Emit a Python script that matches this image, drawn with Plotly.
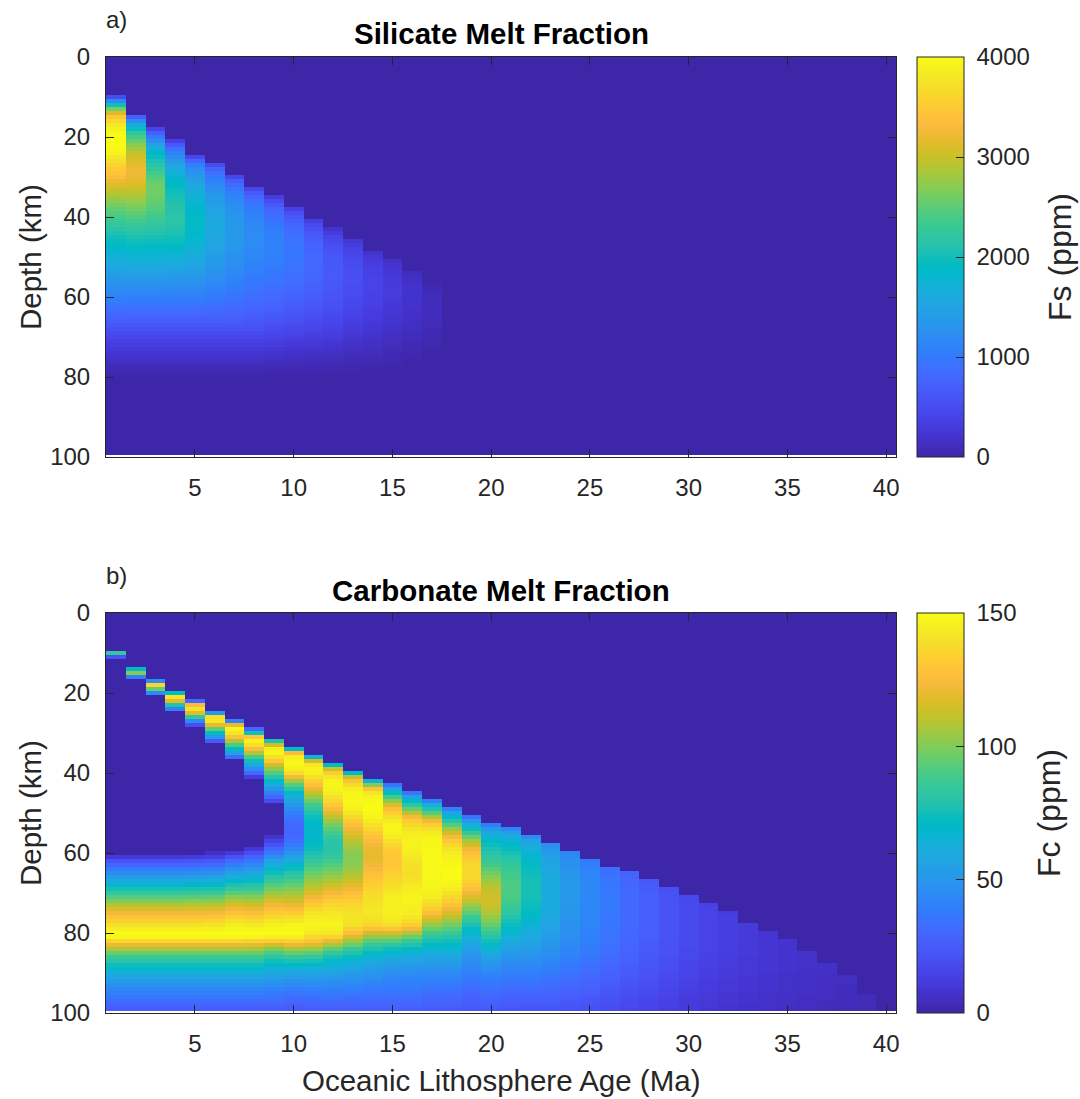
import plotly.graph_objects as go

# ---------------- axes / categories ----------------
ages = list(range(1, 41))          # Oceanic lithosphere age (Ma), one column per Ma
depths = list(range(0, 100))       # depth (km), one row per km (row centres)
x_ticks = [5, 10, 15, 20, 25, 30, 35, 40]
y_ticks = [0, 20, 40, 60, 80, 100]
fs_cbar_ticks = [0, 1000, 2000, 3000, 4000]
fc_cbar_ticks = [0, 50, 100, 150]

# ---------------- a) Silicate melt fraction Fs (ppm) ----------------
# first depth row (km) of the melt column for ages 1..17 (older ages: no melt)
fs_start = [10, 15, 18, 21, 25, 27, 30, 33, 35, 38, 41, 43, 46, 49, 51, 54, 57]
fs_01 = [500, 1200, 2000, 2600, 3100, 3450, 3650, 3800, 3900, 3980, 4000, 4000, 4000, 3980, 3900, 3800, 3700, 3580, 3500, 3450,
         3350, 3220, 3120, 3020, 2920, 2820, 2720, 2620, 2520, 2450, 2380, 2300, 2230, 2150, 2070, 2000, 1940, 1880, 1820, 1760,
         1700, 1640, 1580, 1520, 1460, 1400, 1340, 1280, 1220, 1160, 1100, 1040, 970, 900, 830, 760, 690, 620, 560, 500,
         440, 380, 330, 280, 230, 190, 150, 110, 70, 40, 15]
fs_02 = [700, 1200, 1600, 1950, 2200, 2400, 2550, 2700, 2850, 2950, 3050, 3120, 3180, 3220, 3220, 3200, 3150, 3080, 3000, 2920,
         2840, 2760, 2680, 2600, 2520, 2440, 2360, 2280, 2200, 2130, 2060, 2000, 1940, 1870, 1800, 1740, 1680, 1620, 1550, 1480,
         1410, 1340, 1270, 1200, 1140, 1080, 1020, 960, 890, 820, 750, 690, 620, 560, 500, 440, 380, 330, 280, 230,
         190, 150, 110, 70, 40, 15]
fs_03 = [400, 700, 1000, 1250, 1500, 1700, 1850, 1950, 2050, 2150, 2250, 2350, 2450, 2520, 2580, 2600, 2600, 2580, 2550, 2500,
         2450, 2400, 2340, 2280, 2220, 2160, 2100, 2040, 1980, 1920, 1860, 1800, 1740, 1680, 1620, 1550, 1480, 1410, 1340, 1270,
         1200, 1140, 1080, 1020, 960, 890, 820, 750, 690, 620, 560, 500, 440, 380, 330, 280, 230, 190, 150, 110, 70, 40, 15]
fs_04 = [350, 650, 900, 1100, 1250, 1400, 1500, 1600, 1700, 1780, 1850, 1900, 1950, 2000, 2040, 2080, 2100, 2120, 2140, 2150,
         2150, 2140, 2100, 2060, 2010, 1960, 1900, 1840, 1780, 1720, 1660, 1600, 1530, 1460, 1390, 1320, 1250, 1180, 1120, 1060,
         1000, 940, 880, 820, 750, 690, 620, 560, 500, 440, 380, 330, 280, 230, 190, 150, 110, 70, 40, 15]
fs_05 = [450, 800, 1050, 1200, 1300, 1400, 1480, 1550, 1610, 1670, 1720, 1760, 1800, 1830, 1850, 1870, 1880, 1880, 1870, 1850,
         1820, 1790, 1750, 1710, 1670, 1620, 1570, 1520, 1470, 1420, 1360, 1300, 1240, 1180, 1120, 1060, 1000, 940, 880, 820,
         750, 690, 620, 560, 500, 440, 380, 330, 280, 230, 190, 150, 110, 70, 40, 15]
fs_06 = [500, 750, 900, 1000, 1100, 1180, 1250, 1310, 1370, 1420, 1460, 1500, 1530, 1550, 1570, 1580, 1580, 1570, 1560, 1540,
         1510, 1480, 1450, 1420, 1390, 1360, 1320, 1280, 1240, 1200, 1150, 1100, 1060, 1020, 970, 910, 850, 790, 740, 690,
         620, 560, 500, 440, 380, 330, 280, 230, 190, 150, 110, 70, 40, 15]
fs_07 = [450, 700, 850, 960, 1050, 1120, 1180, 1230, 1270, 1300, 1330, 1350, 1370, 1380, 1380, 1370, 1360, 1340, 1320, 1300,
         1280, 1250, 1220, 1190, 1160, 1130, 1100, 1060, 1020, 980, 940, 900, 860, 810, 760, 720, 680, 620, 560, 500,
         440, 380, 330, 280, 230, 190, 150, 110, 70, 40, 15]
fs_08 = [450, 650, 780, 880, 960, 1030, 1080, 1120, 1150, 1170, 1190, 1200, 1200, 1200, 1190, 1180, 1160, 1140, 1120, 1100,
         1080, 1050, 1020, 990, 960, 930, 900, 870, 840, 800, 760, 720, 680, 640, 590, 540, 490, 430, 375, 325,
         275, 230, 190, 150, 110, 70, 40, 15]
fs_09 = [300, 500, 650, 760, 840, 900, 950, 990, 1020, 1050, 1070, 1080, 1090, 1090, 1080, 1070, 1050, 1030, 1010, 990,
         970, 940, 910, 880, 850, 820, 790, 760, 720, 680, 640, 600, 550, 500, 450, 400, 350, 300, 255, 210,
         170, 130, 95, 60, 35, 12]
fs_10 = [350, 520, 640, 720, 790, 840, 880, 910, 930, 950, 960, 960, 960, 950, 940, 920, 900, 880, 860, 840,
         810, 780, 750, 720, 690, 660, 620, 580, 540, 500, 460, 410, 360, 310, 270, 225, 185, 145, 110, 80, 50, 28, 10]
fs_11 = [350, 480, 570, 640, 690, 730, 760, 780, 800, 810, 810, 810, 800, 790, 780, 760, 740, 720, 700, 680,
         650, 620, 590, 560, 530, 490, 450, 410, 370, 330, 290, 250, 210, 170, 135, 100, 70, 45, 25, 10]
fs_12 = [200, 320, 410, 470, 520, 560, 590, 610, 630, 640, 650, 650, 650, 640, 630, 620, 600, 580, 560, 540,
         520, 490, 460, 430, 400, 370, 330, 300, 260, 225, 190, 155, 120, 90, 62, 40, 22, 8]
fs_13 = [250, 330, 390, 430, 460, 480, 500, 510, 520, 520, 520, 510, 500, 490, 480, 460, 440, 420, 400, 380,
         350, 320, 300, 270, 240, 210, 180, 150, 120, 95, 70, 50, 30, 15]
fs_14 = [200, 270, 310, 340, 360, 380, 390, 400, 400, 400, 390, 380, 370, 360, 340, 320, 300, 280, 260, 240,
         220, 190, 170, 150, 120, 100, 80, 60, 40, 20]
fs_15 = [160, 210, 240, 260, 280, 290, 300, 300, 300, 290, 280, 270, 260, 250, 230, 220, 200, 180, 160, 140,
         120, 100, 90, 70, 50, 40, 25]
fs_16 = [110, 150, 170, 190, 200, 200, 200, 200, 190, 180, 170, 160, 150, 140, 120, 110, 100, 80, 70, 60, 45, 30, 20]
fs_17 = [40, 70, 90, 100, 110, 110, 110, 100, 100, 90, 80, 70, 60, 50, 40, 30, 20]
fs_cols = [fs_01, fs_02, fs_03, fs_04, fs_05, fs_06, fs_07, fs_08, fs_09, fs_10,
           fs_11, fs_12, fs_13, fs_14, fs_15, fs_16, fs_17]

# ---------------- b) Carbonate melt fraction Fc (ppm) ----------------
# shallow carbonate stripe for ages 1..9 (first depth row + values)
fc_cap_start = [10, 14, 17, 20, 22, 25, 27, 29, 32]
fc_cap_01 = [85, 22]
fc_cap_02 = [70, 100, 40]
fc_cap_03 = [45, 135, 95, 45]
fc_cap_04 = [72, 142, 118, 78, 40]
fc_cap_05 = [30, 125, 140, 118, 85, 45, 20]
fc_cap_06 = [50, 140, 142, 120, 95, 72, 50, 25]
fc_cap_07 = [40, 120, 148, 142, 128, 108, 90, 72, 55, 32]
fc_cap_08 = [30, 75, 130, 146, 140, 125, 108, 90, 75, 60, 45, 30, 12]
fc_cap_09 = [78, 115, 145, 148, 140, 130, 115, 102, 92, 80, 70, 60, 50, 40, 30, 18]
fc_caps = [fc_cap_01, fc_cap_02, fc_cap_03, fc_cap_04, fc_cap_05, fc_cap_06, fc_cap_07, fc_cap_08, fc_cap_09]

# main (deep) carbonate melt column for ages 1..40 (first depth row + values down to 99 km)
fc_start = [61, 61, 61, 61, 61, 60, 60, 59, 56, 34, 36, 38, 40, 42, 43, 45, 47, 49, 51, 53,
            54, 56, 58, 60, 62, 64, 65, 67, 69, 71, 73, 75, 78, 80, 82, 85, 88, 91, 96, 99]
fc_01 = [10, 22, 30, 38, 45, 53, 60, 68, 76, 84, 92, 100, 108, 116, 122, 128, 134, 140, 145, 150,
         148, 135, 120, 108, 96, 87, 80, 74, 68, 63, 58, 53, 48, 44, 40, 36, 32, 29, 26]
fc_02 = [10, 22, 30, 38, 45, 53, 60, 68, 76, 84, 92, 100, 108, 116, 122, 128, 134, 140, 145, 150,
         148, 135, 120, 108, 96, 87, 80, 74, 68, 63, 58, 53, 48, 44, 40, 36, 32, 29, 26]
fc_03 = [10, 22, 30, 38, 45, 53, 60, 68, 76, 84, 92, 100, 108, 116, 122, 128, 134, 140, 145, 150,
         148, 135, 120, 108, 96, 87, 80, 74, 68, 63, 58, 53, 48, 44, 40, 36, 32, 29, 26]
fc_04 = [10, 22, 30, 38, 45, 53, 60, 68, 76, 84, 92, 100, 108, 116, 122, 128, 134, 140, 145, 150,
         148, 135, 120, 108, 96, 87, 80, 74, 68, 63, 58, 53, 48, 44, 40, 36, 32, 29, 26]
fc_05 = [12, 23, 31, 39, 46, 54, 61, 69, 77, 85, 93, 101, 109, 116, 122, 128, 134, 140, 145, 150,
         148, 135, 120, 108, 96, 87, 80, 74, 68, 63, 58, 53, 48, 44, 40, 36, 32, 29, 26]
fc_06 = [6, 14, 24, 32, 40, 47, 55, 62, 70, 78, 86, 94, 102, 110, 117, 123, 129, 135, 141, 146,
         150, 148, 135, 120, 108, 96, 87, 80, 74, 68, 63, 58, 53, 48, 44, 40, 36, 32, 29, 26]
fc_07 = [10, 22, 31, 39, 47, 55, 62, 69, 77, 85, 93, 101, 109, 116, 122, 128, 134, 140, 145, 148,
         150, 148, 135, 120, 108, 96, 87, 80, 74, 68, 63, 58, 53, 48, 44, 40, 36, 32, 29, 26]
fc_08 = [10, 20, 28, 36, 44, 51, 58, 65, 72, 79, 86, 93, 100, 107, 114, 120, 126, 132, 138, 143,
         147, 150, 147, 134, 119, 107, 96, 87, 80, 74, 68, 63, 58, 53, 48, 44, 40, 36, 32, 29, 26]
fc_09 = [8, 15, 22, 30, 38, 46, 55, 62, 68, 74, 80, 86, 92, 98, 104, 110, 116, 122, 127, 132,
         137, 142, 146, 149, 150, 145, 132, 115, 100, 90, 82, 75, 69, 64, 59, 54, 50, 46, 42, 38,
         35, 32, 29, 26]
fc_10 = [70, 125, 145, 148, 148, 145, 138, 122, 106, 92, 80, 70, 62, 56, 50, 45, 40, 36, 33, 31,
         30, 30, 31, 34, 38, 43, 49, 56, 62, 68, 74, 80, 85, 90, 95, 100, 105, 110, 115, 120,
         126, 132, 138, 143, 147, 149, 150, 145, 134, 120, 106, 95, 85, 77, 70, 64, 58, 53, 48, 44,
         40, 36, 33, 30, 27, 25]
fc_11 = [65, 115, 142, 147, 146, 140, 133, 127, 120, 112, 104, 96, 89, 83, 78, 74, 71, 69, 68, 68,
         69, 70, 72, 74, 77, 80, 84, 88, 92, 96, 100, 104, 108, 112, 117, 122, 127, 132, 137, 141,
         144, 146, 147, 146, 143, 137, 128, 116, 104, 93, 84, 76, 69, 63, 58, 53, 49, 45, 41, 37,
         34, 31, 28, 26]
fc_12 = [70, 112, 132, 142, 147, 148, 147, 144, 140, 136, 131, 125, 118, 111, 104, 98, 93, 88, 84, 81,
         80, 80, 82, 85, 88, 92, 96, 100, 104, 108, 113, 118, 123, 128, 132, 136, 139, 142, 144, 146,
         147, 146, 143, 134, 120, 106, 94, 84, 76, 70, 65, 60, 56, 52, 48, 44, 41, 38, 35, 32,
         29, 27]
fc_13 = [68, 110, 128, 138, 145, 148, 149, 149, 148, 146, 142, 137, 132, 127, 122, 118, 114, 110, 107, 104,
         102, 101, 101, 102, 104, 107, 110, 114, 118, 122, 126, 130, 133, 136, 138, 140, 141, 141, 139, 134,
         126, 116, 105, 95, 86, 78, 72, 66, 61, 57, 53, 49, 46, 43, 40, 37, 34, 31, 29, 27]
fc_14 = [65, 100, 128, 142, 147, 149, 150, 150, 149, 147, 144, 140, 136, 132, 128, 125, 122, 120, 119, 119,
         120, 122, 124, 127, 129, 131, 133, 135, 137, 139, 140, 141, 142, 142, 141, 139, 135, 127, 115, 103,
         93, 85, 78, 72, 66, 61, 57, 53, 50, 47, 44, 41, 38, 36, 33, 31, 29, 27]
fc_15 = [35, 55, 72, 88, 102, 116, 126, 133, 139, 144, 147, 148, 147, 144, 140, 136, 133, 131, 130, 130,
         130, 131, 133, 135, 137, 139, 141, 143, 145, 146, 146, 146, 146, 145, 143, 138, 128, 115, 103, 92,
         82, 74, 67, 62, 57, 53, 50, 47, 44, 41, 39, 37, 35, 33, 31, 29, 27]
fc_16 = [35, 55, 70, 82, 95, 110, 124, 132, 137, 141, 144, 146, 147, 147, 146, 145, 143, 141, 140, 139,
         139, 140, 141, 143, 145, 146, 147, 147, 146, 145, 144, 142, 138, 132, 122, 108, 96, 86, 78, 71,
         65, 60, 56, 52, 49, 46, 43, 41, 39, 37, 35, 33, 31, 29, 27]
fc_17 = [40, 62, 78, 92, 108, 122, 132, 139, 144, 147, 148, 149, 149, 149, 149, 149, 149, 149, 149, 149,
         148, 148, 147, 146, 144, 141, 137, 132, 126, 119, 111, 103, 96, 89, 82, 76, 71, 66, 62, 58,
         54, 51, 48, 45, 42, 40, 38, 35, 33, 31, 29, 27, 25]
fc_18 = [40, 55, 68, 80, 92, 104, 115, 124, 131, 137, 141, 144, 146, 148, 149, 150, 150, 150, 149, 147,
         144, 141, 137, 133, 128, 122, 116, 110, 104, 98, 92, 86, 80, 75, 70, 66, 62, 58, 54, 51,
         48, 45, 42, 40, 37, 35, 33, 31, 29, 27, 25]
fc_19 = [35, 50, 62, 74, 85, 96, 106, 115, 122, 127, 131, 134, 136, 137, 137, 136, 134, 131, 127, 122,
         117, 111, 105, 99, 93, 87, 82, 77, 72, 68, 64, 60, 57, 54, 51, 48, 46, 44, 42, 40,
         38, 36, 34, 32, 30, 28, 27, 25, 24]
fc_20 = [38, 52, 60, 65, 70, 74, 77, 80, 83, 86, 89, 93, 97, 101, 105, 108, 111, 113, 114, 114,
         113, 111, 108, 104, 100, 95, 90, 85, 80, 75, 70, 65, 60, 56, 52, 49, 46, 43, 40, 38,
         36, 34, 32, 30, 28, 26, 24]
fc_21 = [42, 55, 62, 66, 70, 73, 76, 79, 82, 84, 86, 88, 89, 90, 91, 91, 91, 90, 89, 87,
         85, 82, 79, 76, 73, 70, 67, 64, 61, 58, 55, 52, 49, 46, 44, 42, 40, 38, 36, 34,
         32, 30, 28, 26, 25, 23]
fc_22 = [45, 55, 60, 63, 66, 68, 70, 72, 73, 74, 75, 76, 76, 76, 76, 76, 75, 74, 73, 71,
         69, 67, 65, 63, 61, 59, 57, 55, 53, 51, 48, 46, 44, 42, 40, 38, 36, 34, 32, 30,
         28, 26, 24, 23]
fc_23 = [45, 50, 53, 55, 56, 57, 58, 59, 60, 60, 61, 61, 61, 61, 61, 60, 60, 59, 58, 57,
         56, 55, 54, 53, 51, 50, 48, 47, 45, 43, 41, 40, 38, 36, 34, 33, 31, 29, 28, 26,
         24, 23]
fc_24 = [42, 45, 47, 48, 49, 50, 50, 51, 51, 51, 51, 51, 51, 50, 50, 50, 49, 49, 48, 48,
         47, 46, 45, 44, 43, 42, 41, 39, 38, 36, 35, 33, 32, 30, 29, 27, 26, 24, 23, 22]
fc_25 = [38, 40, 41, 42, 42, 43, 43, 43, 43, 43, 43, 43, 43, 43, 42, 42, 42, 41, 41, 40,
         40, 39, 38, 37, 36, 35, 34, 33, 32, 31, 29, 28, 27, 26, 24, 23, 22, 21]
fc_26 = [33, 34, 35, 36, 36, 36, 37, 37, 37, 37, 37, 37, 36, 36, 36, 36, 35, 35, 35, 34,
         34, 33, 32, 31, 30, 29, 28, 27, 26, 25, 24, 23, 22, 21, 20, 19]
fc_27 = [28, 29, 30, 30, 31, 31, 31, 31, 31, 31, 31, 31, 31, 31, 31, 30, 30, 30, 29, 29,
         28, 28, 27, 26, 25, 25, 24, 23, 22, 21, 20, 19, 18, 18, 17]
fc_28 = [24, 25, 25, 26, 26, 26, 26, 26, 26, 26, 26, 26, 26, 26, 26, 25, 25, 25, 24, 24,
         23, 23, 22, 22, 21, 20, 20, 19, 18, 17, 16, 16, 15]
fc_29 = [20, 21, 21, 22, 22, 22, 22, 22, 22, 22, 22, 22, 22, 21, 21, 21, 21, 20, 20, 19,
         19, 18, 18, 17, 17, 16, 16, 15, 14, 14, 13]
fc_30 = [17, 17, 18, 18, 18, 18, 18, 18, 18, 18, 18, 18, 18, 17, 17, 17, 16, 16, 16, 15,
         15, 14, 14, 13, 13, 12, 12, 11, 11]
fc_31 = [14, 15, 15, 15, 15, 15, 15, 15, 15, 15, 15, 15, 14, 14, 14, 14, 13, 13, 13, 12,
         12, 12, 11, 11, 10, 10, 9]
fc_32 = [12, 13, 13, 13, 13, 13, 13, 13, 13, 13, 12, 12, 12, 12, 11, 11, 11, 10, 10, 10,
         9, 9, 9, 8, 8]
fc_33 = [11, 11, 11, 11, 11, 11, 11, 11, 10, 10, 10, 10, 10, 9, 9, 9, 9, 8, 8, 8, 7, 7]
fc_34 = [9, 9, 9, 9, 9, 9, 9, 9, 9, 9, 8, 8, 8, 8, 8, 7, 7, 7, 7, 6]
fc_35 = [8, 8, 8, 8, 8, 8, 8, 8, 7, 7, 7, 7, 7, 6, 6, 6, 6, 5]
fc_36 = [7, 7, 7, 7, 7, 6, 6, 6, 6, 6, 6, 5, 5, 5, 5]
fc_37 = [6, 6, 6, 5, 5, 5, 5, 5, 5, 4, 4, 4]
fc_38 = [5, 5, 4, 4, 4, 4, 4, 4, 3]
fc_39 = [4, 3, 3, 3]
fc_40 = []
fc_cols = [fc_01, fc_02, fc_03, fc_04, fc_05, fc_06, fc_07, fc_08, fc_09, fc_10,
           fc_11, fc_12, fc_13, fc_14, fc_15, fc_16, fc_17, fc_18, fc_19, fc_20,
           fc_21, fc_22, fc_23, fc_24, fc_25, fc_26, fc_27, fc_28, fc_29, fc_30,
           fc_31, fc_32, fc_33, fc_34, fc_35, fc_36, fc_37, fc_38, fc_39, fc_40]


def fill_grid(grid, starts, columns):
    for j, (s, vals) in enumerate(zip(starts, columns)):
        for i, v in enumerate(vals):
            r = s + i
            if 0 <= r < len(grid):
                grid[r][j] = v


z_fs = [[0] * len(ages) for _ in depths]
fill_grid(z_fs, fs_start, fs_cols)
z_fc = [[0] * len(ages) for _ in depths]
fill_grid(z_fc, fc_start, fc_cols)
fill_grid(z_fc, fc_cap_start, fc_caps)

# ---------------- style ----------------
parula = [
    (0.2422, 0.1504, 0.6603), (0.2504, 0.1650, 0.7076), (0.2578, 0.1818, 0.7511), (0.2647, 0.1978, 0.7952),
    (0.2706, 0.2147, 0.8364), (0.2751, 0.2342, 0.8710), (0.2783, 0.2559, 0.8991), (0.2803, 0.2782, 0.9221),
    (0.2813, 0.3006, 0.9414), (0.2810, 0.3228, 0.9579), (0.2795, 0.3447, 0.9717), (0.2760, 0.3667, 0.9829),
    (0.2699, 0.3892, 0.9906), (0.2602, 0.4123, 0.9952), (0.2440, 0.4358, 0.9988), (0.2206, 0.4603, 0.9973),
    (0.1963, 0.4847, 0.9892), (0.1834, 0.5074, 0.9798), (0.1786, 0.5289, 0.9682), (0.1764, 0.5499, 0.9520),
    (0.1687, 0.5703, 0.9359), (0.1540, 0.5902, 0.9218), (0.1460, 0.6091, 0.9079), (0.1380, 0.6276, 0.8973),
    (0.1248, 0.6459, 0.8883), (0.1113, 0.6635, 0.8763), (0.0952, 0.6798, 0.8598), (0.0689, 0.6948, 0.8394),
    (0.0297, 0.7082, 0.8163), (0.0036, 0.7203, 0.7917), (0.0067, 0.7312, 0.7660), (0.0433, 0.7411, 0.7394),
    (0.0964, 0.7500, 0.7120), (0.1408, 0.7584, 0.6842), (0.1717, 0.7670, 0.6554), (0.1938, 0.7758, 0.6251),
    (0.2161, 0.7843, 0.5923), (0.2470, 0.7918, 0.5567), (0.2906, 0.7973, 0.5188), (0.3406, 0.8008, 0.4789),
    (0.3909, 0.8029, 0.4354), (0.4456, 0.8024, 0.3909), (0.5044, 0.7993, 0.3480), (0.5616, 0.7942, 0.3045),
    (0.6174, 0.7876, 0.2612), (0.6720, 0.7793, 0.2227), (0.7242, 0.7698, 0.1910), (0.7738, 0.7598, 0.1646),
    (0.8203, 0.7498, 0.1535), (0.8634, 0.7406, 0.1596), (0.9035, 0.7330, 0.1774), (0.9393, 0.7288, 0.2100),
    (0.9728, 0.7298, 0.2394), (0.9956, 0.7434, 0.2371), (0.9970, 0.7659, 0.2199), (0.9952, 0.7893, 0.2028),
    (0.9892, 0.8136, 0.1885), (0.9786, 0.8386, 0.1766), (0.9676, 0.8639, 0.1643), (0.9610, 0.8890, 0.1537),
    (0.9597, 0.9135, 0.1423), (0.9628, 0.9373, 0.1265), (0.9691, 0.9606, 0.1064), (0.9769, 0.9839, 0.0805)]
n = len(parula)
parula_scale = [[i / (n - 1), 'rgb(%d,%d,%d)' % tuple(round(c * 255) for c in rgb)] for i, rgb in enumerate(parula)]

FONT = 'Liberation Sans, Arial, Helvetica, sans-serif'
INK = '#262626'
TICK_SIZE = 24
LABEL_SIZE = 29.5
W, H = 1080, 1099
ML, MR, MT, MB = 106, 184, 57, 86
PW = W - ML - MR
PH = H - MT - MB
PANEL = 400
dom_b = [0, PANEL / PH]
dom_a = [1 - PANEL / PH, 1]


def px_x(x):
    return (x - ML) / PW


def px_y(y):
    return (H - MB - y) / PH


def cbar(ticks, top):
    return dict(
        x=px_x(917), xanchor='left', y=1 if top else 0, yanchor='top' if top else 'bottom',
        len=PANEL / PH, lenmode='fraction', thickness=47, thicknessmode='pixels',
        xpad=0, ypad=0, outlinecolor=INK, outlinewidth=1,
        tickvals=ticks, ticktext=['\u00a0' + str(t) for t in ticks],
        ticks='inside', ticklen=8, tickcolor=INK, tickwidth=1,
        tickfont=dict(family=FONT, size=TICK_SIZE, color=INK))


fig = go.Figure()
fig.add_trace(go.Heatmap(x=ages, y=depths, z=z_fs, colorscale=parula_scale, zmin=0, zmax=4000,
                         zsmooth=False, xaxis='x', yaxis='y', colorbar=cbar(fs_cbar_ticks, True),
                         hoverinfo='skip'))
fig.add_trace(go.Heatmap(x=ages, y=depths, z=z_fc, colorscale=parula_scale, zmin=0, zmax=150,
                         zsmooth=False, xaxis='x2', yaxis='y2', colorbar=cbar(fc_cbar_ticks, False),
                         hoverinfo='skip'))

axis_common = dict(showline=True, linecolor=INK, linewidth=1, mirror='ticks', ticks='inside', ticklen=8,
                   tickwidth=1, tickcolor=INK, showgrid=False, zeroline=False,
                   tickfont=dict(family=FONT, size=TICK_SIZE, color=INK))
xa = dict(axis_common, range=[0.5, 40.5], tickvals=x_ticks, ticklabelstandoff=9)
ya = dict(axis_common, range=[100, 0], tickvals=y_ticks, ticklabelstandoff=10)

fig.update_layout(
    width=W, height=H, margin=dict(l=ML, r=MR, t=MT, b=MB),
    paper_bgcolor='white', plot_bgcolor='white', showlegend=False,
    font=dict(family=FONT, color=INK),
    xaxis=dict(xa, domain=[0, 1], anchor='y'),
    yaxis=dict(ya, domain=dom_a, anchor='x'),
    xaxis2=dict(xa, domain=[0, 1], anchor='y2'),
    yaxis2=dict(ya, domain=dom_b, anchor='x2'),
)

ann = []


def add_text(text, x, y, size, angle=0, xanchor='center', bold=False):
    ann.append(dict(text=('<b>%s</b>' % text) if bold else text, x=px_x(x), y=px_y(y), xref='paper', yref='paper',
                    xanchor=xanchor, yanchor='middle', showarrow=False, textangle=angle,
                    font=dict(family=FONT, size=size, color='black' if bold else INK)))


mid_a = MT + PANEL / 2
mid_b = H - MB - PANEL / 2
add_text('a)', 104, 20, TICK_SIZE, xanchor='left')
add_text('b)', 104, 575, TICK_SIZE, xanchor='left')
add_text('Silicate Melt Fraction', (ML + W - MR) / 2, 33, 29.5, bold=True)
add_text('Carbonate Melt Fraction', (ML + W - MR) / 2, 590, 29.5, bold=True)
add_text('Depth (km)', 30, mid_a, LABEL_SIZE, angle=-90)
add_text('Depth (km)', 30, mid_b, LABEL_SIZE, angle=-90)
add_text('Oceanic Lithosphere Age (Ma)', (ML + W - MR) / 2, 1080, LABEL_SIZE)
add_text('Fs (ppm)', 1060, mid_a, 32, angle=-90)
add_text('Fc (ppm)', 1049, mid_b, 32, angle=-90)
fig.update_layout(annotations=ann)

fig.write_html('out.html')
